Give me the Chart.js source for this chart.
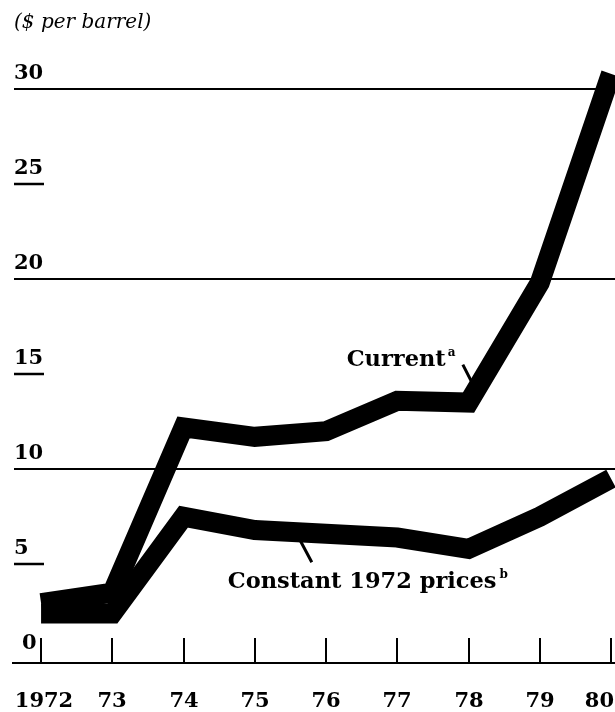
<!DOCTYPE html>
<html>
<head>
<meta charset="utf-8">
<script src="https://cdn.jsdelivr.net/npm/chart.js@4"></script>
<style>
  html, body { margin: 0; padding: 0; background: #fff; }
  canvas { display: block; }
</style>
</head>
<body>
<canvas id="oil" width="615" height="712"></canvas>
<script>
// Oil price, $ per barrel
const years = [1972, 1973, 1974, 1975, 1976, 1977, 1978, 1979, 1980];
const yearLabels = ['1972', '73', '74', '75', '76', '77', '78', '79', '80'];
const currentPrices = [2.95, 3.5, 12.2, 11.7, 12.0, 13.6, 13.5, 19.8, 30.8];
const constantPrices = [2.4, 2.4, 7.5, 6.8, 6.6, 6.4, 5.8, 7.5, 9.5];
const gridValues = [10, 20, 30];
const underlineValues = [5, 15, 25];
const yLabels = ['0', '5', '10', '15', '20', '25', '30'];
const yLabelValues = [0, 5, 10, 15, 20, 25, 30];

const INK = '#000';
const numFont = 'bold 21px "DejaVu Serif"';
const noteFont = 'bold 22.5px "DejaVu Serif"';

function toPoints(vals) {
    return vals.map((v, i) => ({ x: years[i], y: v }));
}

// Draws the hand-lettered axis furniture from the chart's scales
const decor = {
    id: 'decor',
    beforeDatasetsDraw(chart) {
        const ctx = chart.ctx;
        const ys = chart.scales.y;
        const area = chart.chartArea;
        ctx.save();
        ctx.strokeStyle = INK;
        ctx.lineWidth = 2;
        gridValues.forEach(v => {
            const py = Math.round(ys.getPixelForValue(v));
            ctx.beginPath();
            ctx.moveTo(area.left, py);
            ctx.lineTo(area.right, py);
            ctx.stroke();
        });
        ctx.lineWidth = 2.5;
        underlineValues.forEach(v => {
            const py = Math.round(ys.getPixelForValue(v));
            ctx.beginPath();
            ctx.moveTo(area.left, py);
            ctx.lineTo(area.left + 30, py);
            ctx.stroke();
        });
        ctx.restore();
    },
    afterDatasetsDraw(chart) {
        const ctx = chart.ctx;
        const xs = chart.scales.x;
        const ys = chart.scales.y;
        const area = chart.chartArea;
        ctx.save();
        ctx.fillStyle = INK;
        ctx.strokeStyle = INK;

        // base axis
        const base = area.bottom;
        ctx.lineWidth = 2;
        ctx.beginPath();
        ctx.moveTo(area.left - 2, base);
        ctx.lineTo(area.right, base);
        ctx.stroke();

        // year ticks and labels
        ctx.font = numFont;
        ctx.textAlign = 'center';
        ctx.textBaseline = 'alphabetic';
        years.forEach((yr, i) => {
            const px = Math.round(xs.getPixelForValue(yr));
            ctx.beginPath();
            ctx.moveTo(px, base);
            ctx.lineTo(px, base - 25);
            ctx.stroke();
            const w = ctx.measureText(yearLabels[i]).width;
            let cx = px;
            if (cx + w / 2 > chart.width - 1) cx = chart.width - 1 - w / 2;
            ctx.fillText(yearLabels[i], cx + (i === 0 ? 3 : 0), base + 44);
        });

        // value labels, sitting above their rules
        ctx.textAlign = 'left';
        yLabels.forEach((lab, i) => {
            const py = ys.getPixelForValue(yLabelValues[i]);
            const lx = i === 0 ? area.left + 8 : area.left;
            ctx.fillText(lab, lx, py - 10);
        });

        // axis title
        ctx.font = 'italic 20px "DejaVu Serif"';
        ctx.fillText('($ per barrel)', area.left, 28);

        // series notes
        ctx.font = noteFont;
        const cx = xs.getPixelForValue(1976.29);
        const cy = ys.getPixelForValue(15.45);
        ctx.fillText('Current', cx, cy);
        const cw = ctx.measureText('Current').width;
        ctx.font = 'bold 12px "DejaVu Serif"';
        ctx.fillText('a', cx + cw + 2, cy - 10);

        ctx.font = noteFont;
        const kx = xs.getPixelForValue(1974.62);
        const ky = ys.getPixelForValue(3.72);
        ctx.fillText('Constant 1972 prices', kx, ky);
        const kw = ctx.measureText('Constant 1972 prices').width;
        ctx.font = 'bold 12px "DejaVu Serif"';
        ctx.fillText('b', kx + kw + 3, ky - 10);

        // leader ticks
        ctx.lineWidth = 3;
        ctx.beginPath();
        ctx.moveTo(xs.getPixelForValue(1977.92), ys.getPixelForValue(15.5));
        ctx.lineTo(xs.getPixelForValue(1978.07), ys.getPixelForValue(14.4));
        ctx.moveTo(xs.getPixelForValue(1975.63), ys.getPixelForValue(6.3));
        ctx.lineTo(xs.getPixelForValue(1975.80), ys.getPixelForValue(5.1));
        ctx.stroke();
        ctx.restore();
    }
};

const chart = new Chart(document.getElementById('oil').getContext('2d'), {
    type: 'line',
    data: {
        datasets: [
            {
                label: 'Constant 1972 prices',
                data: toPoints(constantPrices),
                borderColor: INK,
                borderWidth: 20
            },
            {
                label: 'Current',
                data: toPoints(currentPrices),
                borderColor: INK,
                borderWidth: 20
            }
        ]
    },
    options: {
        responsive: false,
        animation: false,
        devicePixelRatio: 1,
        layout: { padding: { left: 14, right: 0, top: 51, bottom: 49 } },
        elements: {
            line: { tension: 0, borderJoinStyle: 'miter', borderCapStyle: 'butt', fill: false },
            point: { radius: 0 }
        },
        datasets: { line: { clip: false } },
        scales: {
            x: { type: 'linear', min: 1971.62, max: 1980.056, display: false },
            y: { type: 'linear', min: -0.2, max: 32, display: false }
        },
        plugins: {
            legend: { display: false },
            tooltip: { enabled: false }
        }
    },
    plugins: [decor]
});
</script>
</body>
</html>
